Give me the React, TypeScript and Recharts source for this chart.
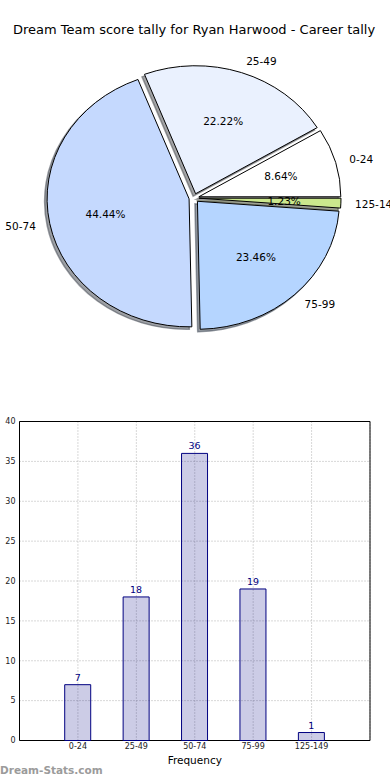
import React from 'react';
import {
  PieChart,
  Pie,
  Cell,
  Sector,
  BarChart,
  Bar,
  XAxis,
  YAxis,
  CartesianGrid,
  LabelList,
  ReferenceArea,
} from 'recharts';

const title = 'Dream Team score tally for Ryan Harwood - Career tally';
const categories = ['0-24', '25-49', '50-74', '75-99', '125-149'];
const counts = [7, 18, 36, 19, 1];
const sliceColors = ['#ffffff', '#eaf1fe', '#c5d9fe', '#b5d5ff', '#cbe88d'];
const yTicks = [0, 5, 10, 15, 20, 25, 30, 35, 40];
const xTicks = [1, 2, 3, 4, 5];
const watermark = 'Dream-Stats.com';
const xLabel = 'Frequency';

const pieData = categories.map((name, i) => ({ name, value: counts[i] }));
const barData = categories.map((name, i) => ({ name, x: i + 1, value: counts[i] }));

const FONT = '"DejaVu Sans", sans-serif';
const RX = 142;
const RY = 128;
const K = RY / RX;
const EXPLODE = 5;
const SH_DX = -2.5;
const SH_DY = 2.5;
const RAD = Math.PI / 180;

const shade = (hex: string) => {
  const n = parseInt(hex.slice(1), 16);
  const r = Math.round(((n >> 16) & 255) * 0.3);
  const g = Math.round(((n >> 8) & 255) * 0.3);
  const b = Math.round((n & 255) * 0.3);
  return `rgb(${r},${g},${b})`;
};

const geom = (p: any) => {
  const mid = (p.startAngle + p.endAngle) / 2;
  return { cos: Math.cos(mid * RAD), sin: Math.sin(mid * RAD), cx: p.cx, cy: p.cy, r: p.outerRadius };
};

const ell = (cx: number, cy: number) =>
  `translate(${cx} ${cy}) scale(1 ${K}) translate(${-cx} ${-cy})`;

const renderShadow = (p: any) => {
  const { cos, sin, cx, cy, r } = geom(p);
  const col = shade(sliceColors[p.index]);
  return (
    <g transform={ell(cx, cy)}>
      <Sector
        cx={cx + EXPLODE * cos + SH_DX}
        cy={cy - EXPLODE * sin + SH_DY / K}
        innerRadius={0}
        outerRadius={r}
        startAngle={p.startAngle}
        endAngle={p.endAngle}
        fill={col}
        fillOpacity={0.5}
        stroke={col}
        strokeOpacity={0.5}
        strokeWidth={1.5}
      />
    </g>
  );
};

const renderSlice = (p: any) => {
  const { cos, sin, cx, cy, r } = geom(p);
  return (
    <g transform={ell(cx, cy)}>
      <Sector
        cx={cx + EXPLODE * cos}
        cy={cy - EXPLODE * sin}
        innerRadius={0}
        outerRadius={r}
        startAngle={p.startAngle}
        endAngle={p.endAngle}
        fill={sliceColors[p.index]}
        stroke="#000"
        strokeWidth={1}
        vectorEffect="non-scaling-stroke"
      />
    </g>
  );
};

const renderText = (p: any) => {
  const { cos, sin, cx, cy, r } = geom(p);
  const ox = cx + EXPLODE * cos;
  const oy = cy - EXPLODE * sin * K;
  const px = ox + 0.6 * r * cos;
  const py = oy - 0.6 * r * K * sin;
  const lx = ox + 1.1 * r * cos;
  const ly = oy - 1.1 * r * K * sin;
  return (
    <g>
      <text x={px} y={py} textAnchor="middle" dominantBaseline="central" fontSize={10.5} fontFamily={FONT} fill="#000">
        {(p.percent * 100).toFixed(2)}%
      </text>
      <text x={lx} y={ly} textAnchor={cos >= 0 ? 'start' : 'end'} dominantBaseline="central" fontSize={10.5} fontFamily={FONT} fill="#000">
        {p.name}
      </text>
    </g>
  );
};

export default function App() {
  return (
    <div style={{ position: 'absolute', left: 0, top: 0, width: 390, height: 780, background: '#fff', overflow: 'hidden' }}>
      <div
        style={{
          position: 'absolute',
          left: 0,
          top: 22,
          width: 388,
          textAlign: 'center',
          fontFamily: FONT,
          fontSize: 13,
          lineHeight: '16px',
          color: '#000',
          whiteSpace: 'nowrap',
        }}
      >
        {title}
      </div>
      <div style={{ position: 'absolute', left: 0, top: 0 }}>
        <PieChart width={390} height={360} margin={{ top: 0, right: 0, bottom: 0, left: 0 }}>
          <Pie
            data={pieData}
            dataKey="value"
            nameKey="name"
            cx={194}
            cy={198}
            outerRadius={RX}
            startAngle={0}
            endAngle={360}
            stroke="none"
            fill="none"
            label={renderShadow}
            labelLine={false}
            isAnimationActive={false}
          >
            {pieData.map((d, i) => (
              <Cell key={`s${i}`} fill="none" stroke="none" />
            ))}
          </Pie>
          <Pie
            data={pieData}
            dataKey="value"
            nameKey="name"
            cx={194}
            cy={198}
            outerRadius={RX}
            startAngle={0}
            endAngle={360}
            stroke="none"
            fill="none"
            label={renderSlice}
            labelLine={false}
            isAnimationActive={false}
          >
            {pieData.map((d, i) => (
              <Cell key={`p${i}`} fill="none" stroke="none" />
            ))}
          </Pie>
          <Pie
            data={pieData}
            dataKey="value"
            nameKey="name"
            cx={194}
            cy={198}
            outerRadius={RX}
            startAngle={0}
            endAngle={360}
            stroke="none"
            fill="none"
            label={renderText}
            labelLine={false}
            isAnimationActive={false}
          >
            {pieData.map((d, i) => (
              <Cell key={`t${i}`} fill="none" stroke="none" />
            ))}
          </Pie>
        </PieChart>
      </div>
      <div style={{ position: 'absolute', left: 0, top: 0 }}>
        <BarChart
          width={390}
          height={780}
          data={barData}
          margin={{ top: 421.5, right: 20, bottom: 9.5, left: 0 }}
        >
          <CartesianGrid stroke="#b0b0b0" strokeDasharray="1 2" strokeWidth={1} />
          <XAxis
            dataKey="x"
            type="number"
            domain={[0, 6]}
            ticks={xTicks}
            interval={0}
            allowDataOverflow
            tickFormatter={(v: number) => categories[v - 1]}
            height={30}
            axisLine={false}
            tickLine={false}
            tickSize={0}
            tickMargin={3}
            tick={{ fontSize: 8, fill: '#222', fontFamily: FONT }}
            label={{ value: xLabel, position: 'insideBottom', offset: 6.5, fontSize: 10.5, fill: '#000', fontFamily: FONT }}
          />
          <YAxis
            type="number"
            domain={[0, 40]}
            ticks={yTicks}
            interval={0}
            width={19.5}
            axisLine={false}
            tickLine={false}
            tickSize={0}
            tickMargin={4}
            tick={{ fontSize: 8, fill: '#222', fontFamily: FONT }}
          />
          <Bar
            dataKey="value"
            barSize={26}
            fill="#000080"
            fillOpacity={0.2}
            stroke="#000080"
            strokeWidth={1}
            isAnimationActive={false}
          >
            <LabelList dataKey="value" position="top" offset={4} fill="#000080" fontSize={9.5} fontFamily={FONT} />
          </Bar>
          <ReferenceArea x1={0} x2={6} y1={0} y2={40} fill="none" stroke="#000" strokeWidth={1} ifOverflow="visible" />
        </BarChart>
      </div>
      <div
        style={{
          position: 'absolute',
          left: 0,
          top: 763,
          fontFamily: FONT,
          fontSize: 10.5,
          fontWeight: 'bold',
          lineHeight: '14px',
          color: '#9b9b9b',
          whiteSpace: 'nowrap',
        }}
      >
        {watermark}
      </div>
    </div>
  );
}
